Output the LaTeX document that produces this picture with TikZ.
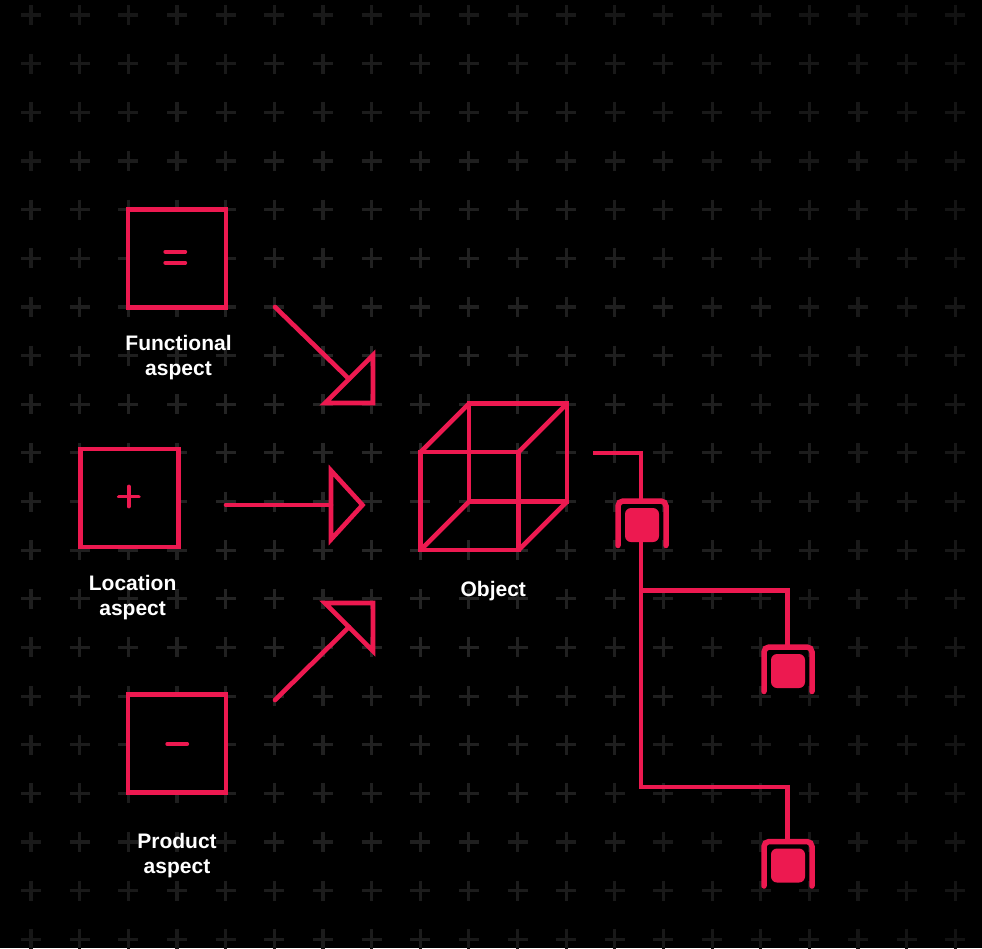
\documentclass[tikz,border=0pt]{standalone}
\usepackage{fontspec}
\setmainfont{Liberation Sans}
\usetikzlibrary{calc}
\definecolor{rd}{RGB}{237,25,80}
\begin{document}
\begin{tikzpicture}[x=1pt,y=-1pt,
  redline/.style={draw=rd,line width=4.3pt},
  arrline/.style={draw=rd,line width=4.6pt,line cap=round},
  tri/.style={draw=rd,line width=4.6pt,line join=miter},
  aspectbox/.style={draw=rd,line width=4.6pt,fill=black,minimum size=98pt,inner sep=0pt,outer sep=0pt},
  sym/.style={draw=rd,line width=3.8pt,line cap=round},
  lbl/.style={text=white,font=\bfseries\fontsize{21}{25}\selectfont,align=center,inner sep=0pt,anchor=north},
  chip/.style={fill=rd,rounded corners=6pt,minimum size=34pt,inner sep=0pt,outer sep=0pt},
  bracket/.style={draw=rd,line width=5.5pt,line cap=round,rounded corners=5pt},
]
\fill[black] (0,0) rectangle (982,948);
\useasboundingbox (0,0) rectangle (982,948);
% background grid of plus marks
\foreach \i in {0,...,19}{\foreach \j in {0,...,19}{
  \pgfmathsetmacro\px{31+48.65*\i}
  \pgfmathsetmacro\py{15+48.65*\j}
  \pgfmathtruncatemacro\gv{max(7,16-veclen(\px-370,\py-500)/90)}
  \draw[line width=3.2pt,draw=white!\gv!black] (\px-10,\py) -- (\px+10,\py) (\px,\py-10) -- (\px,\py+10);
}}
% aspect boxes
\node[aspectbox] (func) at (177.15,258.3) {};
\node[aspectbox] (loc) at (129.65,498) {};
\node[aspectbox] (prod) at (177.15,743.5) {};
\draw[sym] (165.3,251.7) -- (185.3,251.7) (165.3,262.7) -- (185.3,262.7);
\draw[sym] (118.8,496.5) -- (138.8,496.5) (128.8,486.5) -- (128.8,506.5);
\draw[sym] (167.2,744) -- (187.2,744);
% labels
\node[lbl] (funclab) at (178.5,335) {Functional\\aspect};
\node[lbl] (loclab) at (132.6,575) {Location\\aspect};
\node[lbl] (prodlab) at (177,832.7) {Product\\aspect};
\node[lbl] (objlab) at (493.3,580.7) {Object};
% arrows
\coordinate (a1s) at (275,307);
\coordinate (a1e) at (349,379);
\coordinate (a2s) at (226,505);
\coordinate (a2e) at (331,505);
\coordinate (a3s) at (275,700);
\coordinate (a3e) at (349,627);
\draw[arrline] (a1s) -- (a1e);
\draw[tri] (373,355) -- (373,403) -- (325,403) -- cycle;
\draw[arrline] (a2s) -- (a2e);
\draw[tri] (331,470.5) -- (362.5,505) -- (331,539.5) -- cycle;
\draw[arrline] (a3s) -- (a3e);
\draw[tri] (373,651) -- (373,603) -- (325,603) -- cycle;
% cube
\coordinate (f1) at (420.5,452);
\coordinate (f2) at (518.5,452);
\coordinate (f3) at (518.5,550);
\coordinate (f4) at (420.5,550);
\coordinate (k1) at (469,403.5);
\coordinate (k2) at (567,403.5);
\coordinate (k3) at (567,501.5);
\coordinate (k4) at (469,501.5);
\draw[tri] (f1) -- (f2) -- (f3) -- (f4) -- cycle;
\draw[tri] (k1) -- (k2) -- (k3) -- (k4) -- cycle;
\draw[tri] (f1) -- (k1) (f2) -- (k2) (f3) -- (k3) (f4) -- (k4);
% chips
\node[chip] (c1) at (642,525) {};
\node[chip] (c2) at (788,671) {};
\node[chip] (c3) at (788,865.5) {};
\foreach \c in {c1,c2,c3}{
  \draw[bracket] ($(\c)+(-24,20.5)$) -- ($(\c)+(-24,-24)$) -- ($(\c)+(24,-24)$) -- ($(\c)+(24,20.5)$);
}
% connectors
\coordinate (cubeR) at (593,452.7);
\coordinate (b1) at ($(c1)+(-1,-24)$);
\coordinate (b2) at ($(c2)+(-0.5,-24)$);
\coordinate (b3) at ($(c3)+(-0.5,-24)$);
\coordinate (t1) at ($(c1.south)+(-1,0)$);
\coordinate (lv2) at (0,590.5);
\coordinate (lv3) at (0,787.3);
\draw[redline] (cubeR) -| (b1);
\draw[redline] (t1) -- (t1 |- lv3) -| (b3);
\draw[redline] (t1 |- lv2) -| (b2);
\end{tikzpicture}
\end{document}
